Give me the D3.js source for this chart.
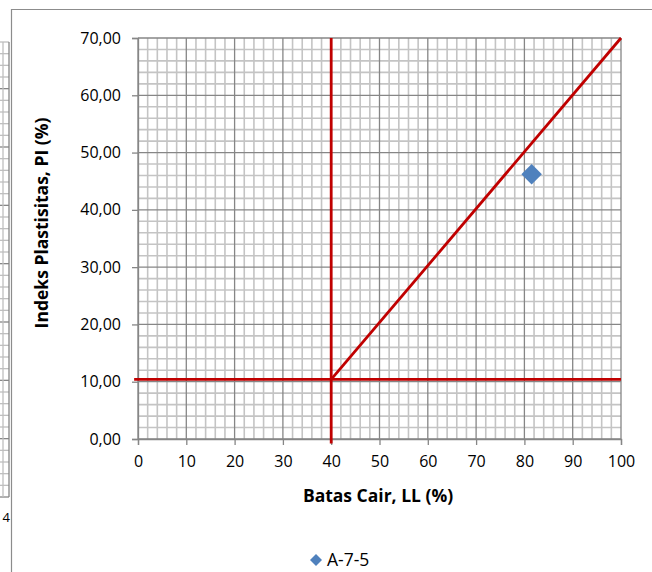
<!DOCTYPE html>
<html>
<head>
<meta charset="utf-8">
<script src="https://cdn.jsdelivr.net/npm/d3@7"></script>
<style>
  body { margin: 0; background: #fff; }
  svg { display: block; }
</style>
</head>
<body>
<div id="content"></div>
<script>
// Chart values.
var xTickValues = [0, 10, 20, 30, 40, 50, 60, 70, 80, 90, 100];
var yTickValues = [0, 10, 20, 30, 40, 50, 60, 70];
var yTickLabels = ["0,00", "10,00", "20,00", "30,00", "40,00", "50,00", "60,00", "70,00"];
var horizontalLine = [{ll: -0.8, pi: 10.4}, {ll: 100, pi: 10.4}];
var verticalLine = [{ll: 40, pi: -0.8}, {ll: 40, pi: 70}];
var diagonalLine = [{ll: 40, pi: 10.4}, {ll: 100, pi: 70}];
var samples = [{name: "A-7-5", ll: 81.5, pi: 46.2}];

var W = 652, H = 572;
var margin = {left: 138, right: 31, top: 38, bottom: 133};
var width = W - margin.left - margin.right;
var height = H - margin.top - margin.bottom;

var svg = d3.select('#content')
              .append('svg')
              .attr('width', W)
              .attr('height', H);

// Piece of the neighbouring chart that is cut off on the left.
var clip = svg.append('clipPath').attr('id', 'leftClip');
clip.append('rect').attr('x', 0).attr('y', 0).attr('width', 10).attr('height', H);
var side = svg.append('g').attr('clip-path', 'url(#leftClip)');
var sideY = d3.scaleLinear().domain([0, 39]).range([497, 42]);
side.selectAll('line.sh')
    .data(d3.range(0, 40))
    .enter().append('line')
    .attr('x1', -20).attr('x2', 9)
    .attr('y1', function(d) { return sideY(d); })
    .attr('y2', function(d) { return sideY(d); })
    .attr('stroke', function(d) { return d % 5 === 0 ? '#868686' : '#bfbfbf'; })
    .attr('stroke-width', 1.3);
side.selectAll('line.sv')
    .data([-3, 3])
    .enter().append('line')
    .attr('x1', function(d) { return d; }).attr('x2', function(d) { return d; })
    .attr('y1', 42).attr('y2', 497)
    .attr('stroke', '#bfbfbf').attr('stroke-width', 1.3);
side.append('line').attr('x1', 9).attr('x2', 9).attr('y1', 42).attr('y2', 497)
    .attr('stroke', '#868686').attr('stroke-width', 1.3);
svg.append('text').attr('x', 10).attr('y', 522).attr('text-anchor', 'end')
    .style('font-family', 'Open Sans').style('font-size', '13px').text('4');

// Chart frame.
svg.append('path')
    .attr('d', 'M11.5,' + H + 'V9.5H' + (W + 2))
    .attr('fill', 'none')
    .attr('stroke', '#8c8c8c')
    .attr('stroke-width', 1.2);

var g = svg.append('g').attr('transform', 'translate(' + margin.left + ',' + margin.top + ')');

var x = d3.scaleLinear().domain([0, 100]).range([0, width]);
var y = d3.scaleLinear().domain([0, 70]).range([height, 0]);

// Minor grid.
g.selectAll('line.mx')
    .data(d3.range(0, 101, 2).filter(function(d) { return d % 10 !== 0; }))
    .enter().append('line')
    .attr('x1', function(d) { return x(d); }).attr('x2', function(d) { return x(d); })
    .attr('y1', 0).attr('y2', height)
    .attr('stroke', '#c4c4c4').attr('stroke-width', 1.6);
g.selectAll('line.my')
    .data(d3.range(0, 71, 2).filter(function(d) { return d % 10 !== 0; }))
    .enter().append('line')
    .attr('x1', 0).attr('x2', width)
    .attr('y1', function(d) { return y(d); }).attr('y2', function(d) { return y(d); })
    .attr('stroke', '#c4c4c4').attr('stroke-width', 1.6);

// Major grid.
g.selectAll('line.gx')
    .data(xTickValues)
    .enter().append('line')
    .attr('x1', function(d) { return x(d); }).attr('x2', function(d) { return x(d); })
    .attr('y1', 0).attr('y2', height)
    .attr('stroke', '#868686').attr('stroke-width', 1.3);
g.selectAll('line.gy')
    .data(yTickValues)
    .enter().append('line')
    .attr('x1', 0).attr('x2', width)
    .attr('y1', function(d) { return y(d); }).attr('y2', function(d) { return y(d); })
    .attr('stroke', '#868686').attr('stroke-width', 1.3);

// Axes.
var xAxis = g.append('g')
    .attr('transform', 'translate(0,' + height + ')')
    .call(d3.axisBottom(x).tickValues(xTickValues).tickSize(6).tickPadding(11));
var yAxis = g.append('g')
    .call(d3.axisLeft(y).tickValues(yTickValues).tickSize(6).tickPadding(11)
          .tickFormat(function(d, i) { return yTickLabels[i]; }));
[xAxis, yAxis].forEach(function(a) {
  a.select('.domain').attr('stroke', '#868686').attr('stroke-width', 1.3);
  a.selectAll('.tick line').attr('stroke', '#868686').attr('stroke-width', 1.3);
  a.selectAll('.tick text')
      .style('font-family', 'Open Sans')
      .style('font-size', '16px')
      .attr('fill', '#000');
});

// Red boundary lines.
var line = d3.line()
    .x(function(d) { return x(d.ll); })
    .y(function(d) { return y(d.pi); });
[horizontalLine, verticalLine, diagonalLine].forEach(function(pts) {
  g.append('path')
      .datum(pts)
      .attr('d', line)
      .attr('fill', 'none')
      .attr('stroke', '#c00000')
      .attr('stroke-width', 2.8);
});

// Sample point.
g.selectAll('path.pt')
    .data(samples)
    .enter().append('path')
    .attr('d', d3.symbol().type(d3.symbolSquare).size(210))
    .attr('transform', function(d) {
      return 'translate(' + x(d.ll) + ',' + y(d.pi) + ') rotate(45)';
    })
    .attr('fill', '#4f81bd');

// Axis titles.
svg.append('text')
    .attr('x', 378).attr('y', 502)
    .attr('text-anchor', 'middle')
    .style('font-family', 'Open Sans')
    .style('font-weight', 'bold')
    .style('font-size', '17.5px')
    .text('Batas Cair, LL (%)');
svg.append('text')
    .attr('transform', 'translate(48,223) rotate(-90)')
    .attr('text-anchor', 'middle')
    .style('font-family', 'Open Sans')
    .style('font-weight', 'bold')
    .style('font-size', '17.5px')
    .text('Indeks Plastisitas, PI (%)');

// Legend.
var legend = svg.append('g').attr('transform', 'translate(316,560)');
legend.append('path')
    .attr('d', d3.symbol().type(d3.symbolSquare).size(72))
    .attr('transform', 'rotate(45)')
    .attr('fill', '#4f81bd');
legend.append('text')
    .attr('x', 11).attr('y', 6)
    .style('font-family', 'Open Sans')
    .style('font-size', '17.5px')
    .text(samples[0].name);
</script>
</body>
</html>
